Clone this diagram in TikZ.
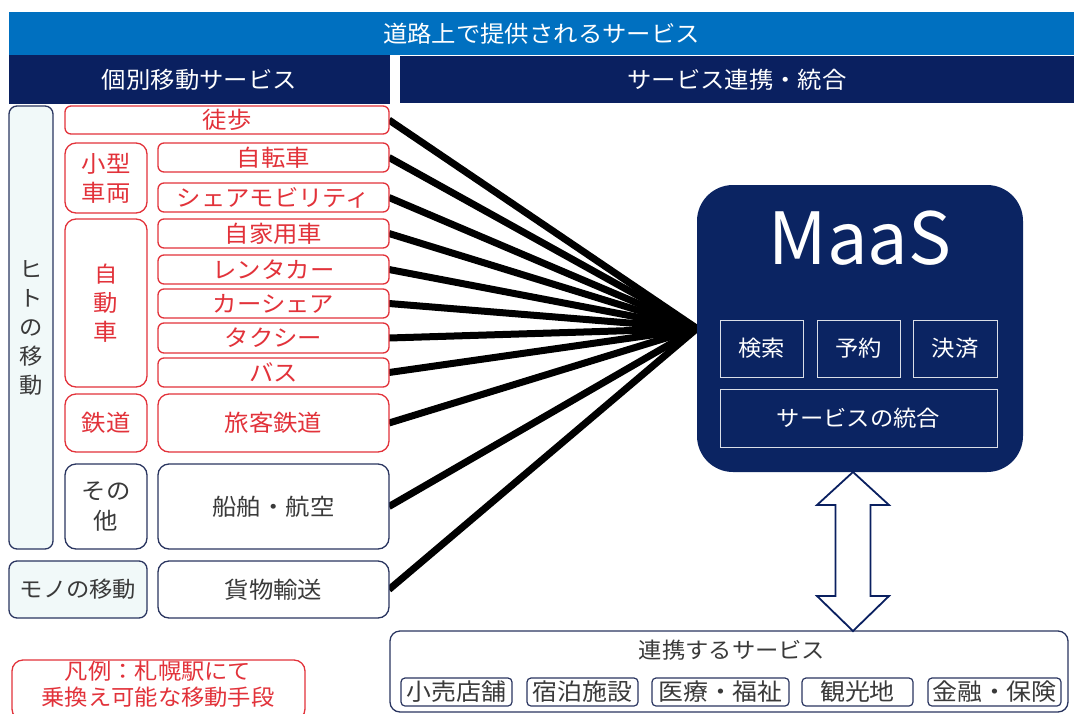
\documentclass[tikz,border=0pt]{standalone}
\usepackage{fontspec}
\setmainfont[FakeStretch=1.06]{Noto Sans CJK JP}
\newfontfamily\maasfont{Noto Sans CJK JP}
\usetikzlibrary{backgrounds}
\definecolor{topblue}{HTML}{0070C0}
\definecolor{navy}{HTML}{0A2060}
\definecolor{maasnavy}{HTML}{0B2462}
\definecolor{myred}{HTML}{E2323A}
\definecolor{txtgray}{HTML}{3A3A3A}
\definecolor{paleblue}{HTML}{F1F9F9}
\definecolor{boxnavy}{HTML}{2A3560}
\newcommand\mybox[7]{\node[#1, minimum width={(#5)-(#3)}, minimum height={(#6)-(#4)}] (#2) at ({((#3)+(#5))/2},{((#4)+(#6))/2}) {#7};}
\begin{document}
\begin{tikzpicture}[x=1pt,y=-1pt,
  every node/.style={inner sep=0pt, outer sep=0pt, align=center},
  bar/.style={fill=topblue, text=white, font=\fontsize{23}{27}\selectfont},
  head/.style={fill=navy, text=white, font=\fontsize{23}{27}\selectfont},
  redbox/.style={draw=myred, line width=1.3pt, rounded corners=6pt, fill=white, text=myred, font=\fontsize{23}{29}\selectfont},
  redgrp/.style={redbox, rounded corners=11pt},
  blkbox/.style={draw=boxnavy, line width=1.3pt, rounded corners=11pt, fill=white, text=txtgray, font=\fontsize{23}{30}\selectfont},
  catbox/.style={draw=boxnavy, line width=1.3pt, rounded corners=8pt, fill=paleblue, text=txtgray, font=\fontsize{22}{29}\selectfont},
  subbox/.style={draw=white!85!navy, line width=1pt, text=white, font=\fontsize{22}{26}\selectfont},
  svcbox/.style={draw=boxnavy, line width=1.2pt, rounded corners=4pt, fill=white, text=txtgray, font=\fontsize{23.5}{26}\selectfont},
  conn/.style={line width=7pt, black}
]
\useasboundingbox (0,0) rectangle (1074,713);
% headers
\mybox{bar}{top}{9}{12}{1074}{55}{道路上で提供されるサービス}
\mybox{head}{headl}{9}{55}{390}{104}{個別移動サービス}
\mybox{head}{headr}{400}{56}{1074}{103}{サービス連携・統合}
% categories
\mybox{catbox}{hito}{9}{106}{53}{549}{ヒ\\ト\\の\\移\\動}
\mybox{catbox}{mono}{9}{561}{147}{618}{モノの移動}
% group boxes
\mybox{redgrp}{kogata}{65}{143}{147}{213}{小型\\車両}
\mybox{redgrp}{jidosha}{65}{219}{147}{387}{\fontsize{22}{25}\selectfont 自\\動\\車}
\mybox{redgrp}{tetsudo}{65}{394}{147}{452}{鉄道}
\mybox{blkbox}{sonota}{65}{464}{147}{549}{その\\他}
% service boxes
\mybox{redbox}{toho}{65}{106}{389}{134}{徒歩}
\mybox{redbox}{jitensha}{158}{143}{389}{172}{自転車}
\mybox{redbox}{share}{158}{183}{389}{212}{シェアモビリティ}
\mybox{redbox}{jikayo}{158}{219}{389}{248}{自家用車}
\mybox{redbox}{rental}{158}{255}{389}{284}{レンタカー}
\mybox{redbox}{carshare}{158}{289}{389}{318}{カーシェア}
\mybox{redbox}{taxi}{158}{323}{389}{353}{タクシー}
\mybox{redbox}{bus}{158}{358}{389}{387}{バス}
\mybox{redgrp}{ryokaku}{158}{394}{389}{452}{旅客鉄道}
\mybox{blkbox}{senpaku}{158}{464}{389}{549}{船舶・航空}
\mybox{blkbox}{kamotsu}{158}{561}{389}{618}{貨物輸送}
% legend
\mybox{redgrp}{legend}{12}{660}{305}{720}{}
\node[text=myred, font=\fontsize{22}{26}\selectfont] (legendtxt) at (158,684) {凡例：札幌駅にて\\乗換え可能な移動手段};
% MaaS
\mybox{maasbox/.style={fill=maasnavy, rounded corners=36pt}, maasbox}{maas}{697}{185}{1023}{472}{}
\node[text=white, font=\maasfont\fontsize{72}{80}\selectfont] (maastxt) at (860,238) {MaaS};
\mybox{subbox}{kensaku}{720}{320}{803}{377}{検索}
\mybox{subbox}{yoyaku}{817}{320}{900}{377}{予約}
\mybox{subbox}{kessai}{913}{320}{997}{377}{決済}
\mybox{subbox}{togo}{720}{389}{997}{447}{サービスの統合}
% connectors
\begin{scope}[on background layer]
\foreach \n in {toho,jitensha,share,jikayo,rental,carshare,taxi,bus,ryokaku,senpaku,kamotsu}
  \draw[conn] (\n.east) -- (maas.west);
\end{scope}
% linked services
\mybox{blkbox/.append style={rounded corners=10pt}, blkbox}{renkei}{390}{631}{1068}{712}{}
\node[text=txtgray, font=\fontsize{22}{26}\selectfont] (renkeitxt) at (732,650) {連携するサービス};
\mybox{svcbox}{kouri}{401}{678}{512}{706}{小売店舗}
\mybox{svcbox}{shukuhaku}{527}{678}{638}{706}{宿泊施設}
\mybox{svcbox}{iryo}{652}{678}{789}{706}{医療・福祉}
\mybox{svcbox}{kanko}{802}{678}{913}{706}{観光地}
\mybox{svcbox}{kinyu}{928}{678}{1061}{706}{金融・保険}
% double arrow
\coordinate (atop) at (853,472);
\coordinate (abot) at (853,631);
\draw[navy, line width=1.8pt, fill=white, line join=miter]
  (atop) -- ++(36,33) -- ++(-18.5,0) -- ++(0,91) -- ++(18.5,0) -- (abot)
  -- ++(-36,-35) -- ++(18.5,0) -- ++(0,-91) -- ++(-18.5,0) -- cycle;
\end{tikzpicture}
\end{document}
